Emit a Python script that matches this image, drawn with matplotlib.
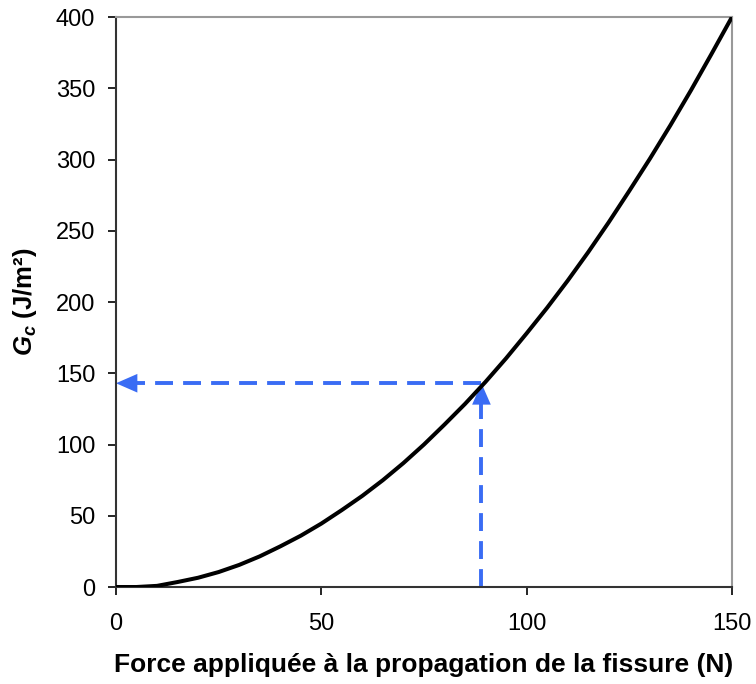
import matplotlib
matplotlib.use("Agg")
import matplotlib.pyplot as plt

plt.rcParams['font.family'] = ['Liberation Sans', 'DejaVu Sans']
plt.rcParams['mathtext.fontset'] = 'custom'
plt.rcParams['mathtext.it'] = 'Liberation Sans:italic:bold'
plt.rcParams['mathtext.rm'] = 'Liberation Sans:bold'

# Applied force at crack propagation (N) and critical energy release rate (J/m²)
force = [0, 5, 10, 15, 20, 25, 30, 35, 40, 45, 50, 55, 60, 65, 70, 75,
         80, 85, 90, 95, 100, 105, 110, 115, 120, 125, 130, 135, 140, 145, 150]
gc = [0, 0, 0.8, 3.5, 6.5, 10.5, 15.5, 21.5, 28.5, 36, 44.5, 54, 64, 75, 87, 100,
      114, 128.5, 144, 160.5, 178, 196, 215, 235, 256, 278, 300.5, 324, 348.5, 374, 400]

# Reading point marked on the curve
read_force = 89
read_gc = 143

x_ticks = [0, 50, 100, 150]
y_ticks = [0, 50, 100, 150, 200, 250, 300, 350, 400]

fig = plt.figure(figsize=(7.56, 6.84), dpi=100)
ax = fig.add_axes([0.1534, 0.1418, 0.8148, 0.8333])

ax.plot(force, gc, color='black', lw=2.9, solid_capstyle='round', zorder=3)

blue = '#3a6cf4'
dash = (0, (4.6, 2.6))
# dashed guide lines
ax.plot([read_force, 3], [read_gc, read_gc], color=blue, lw=2.8, linestyle=dash, zorder=2)
ax.plot([read_force, read_force], [0, read_gc - 8], color=blue, lw=2.8, linestyle=dash, zorder=2)
# solid arrow heads
head = dict(arrowstyle='-|>,head_length=1.1,head_width=0.48', color=blue, lw=0,
            shrinkA=0, shrinkB=0, mutation_scale=14)
ax.annotate('', xy=(0, read_gc), xytext=(4, read_gc), arrowprops=head, zorder=2)
ax.annotate('', xy=(read_force, read_gc), xytext=(read_force, read_gc - 10),
            arrowprops=head, zorder=2)

ax.set_xlim(0, 150)
ax.set_ylim(0, 400)
ax.set_xticks(x_ticks)
ax.set_yticks(y_ticks)
ax.tick_params(axis='both', direction='out', length=6, width=1.2, labelsize=17,
               colors='black')
ax.tick_params(axis='y', pad=9)
ax.tick_params(axis='x', pad=13)

for side in ['left', 'bottom']:
    ax.spines[side].set_color('#333333')
    ax.spines[side].set_linewidth(1.5)
for side in ['top', 'right']:
    ax.spines[side].set_color('#999999')
    ax.spines[side].set_linewidth(1.5)

ax.set_xlabel('Force appliquée à la propagation de la fissure (N)', fontsize=19,
              fontweight='bold', labelpad=13)
ax.set_ylabel(r'$\mathit{G}_{\mathit{c}}$ (J/m²)', fontsize=18.5, fontweight='bold',
              labelpad=12)

fig.savefig('out.png', dpi=100, facecolor='white')
